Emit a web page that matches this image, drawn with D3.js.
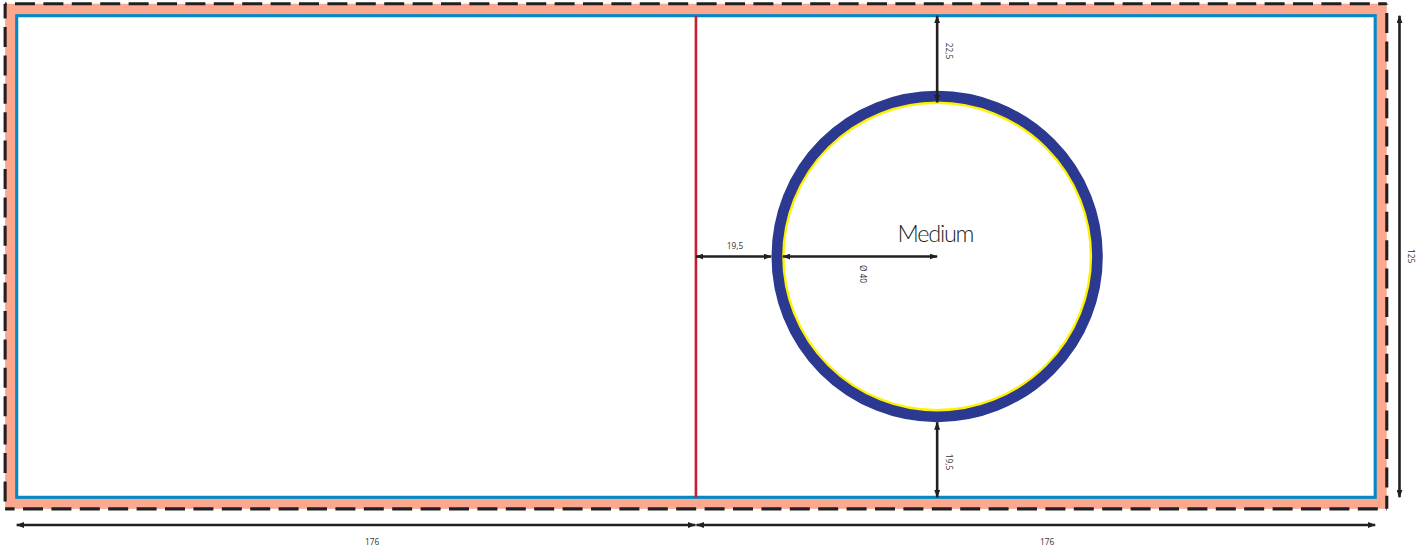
<!DOCTYPE html>
<html><head><meta charset="utf-8">
<script src="https://cdn.jsdelivr.net/npm/d3@7"></script>
<style>html,body{margin:0;padding:0;background:#fff}svg{display:block}text{fill:#333132}</style>
</head><body><svg id="c" width="1421" height="546"></svg>
<script>
// Dimensions, in millimetres
const panelWidths = [176, 176];
const panelHeight = 125;
const bleed = 3;
const circleDiameter = 80;
const ringWidth = 3;
const gapTop = 22.5;
const gapBottom = 19.5;
const gapLeft = 19.5;
const sizeName = "Medium";
const tickLabels = ["176", "176", "125", "22,5", "19,5", "19,5", "Ø 40"];

const totalWidth = d3.sum(panelWidths);
const x = d3.scaleLinear().domain([0, totalWidth]).range([16.7, 1375.2]);
const y = d3.scaleLinear().domain([0, panelHeight]).range([15.7, 497.3]);
const svg = d3.select("#c");
const ink = "#231f20";

const defs = svg.append("defs");
defs.append("marker").attr("id","a").attr("viewBox","0 0 8 6").attr("refX",7.5).attr("refY",3)
  .attr("markerUnits","userSpaceOnUse").attr("markerWidth",8).attr("markerHeight",6).attr("orient","auto-start-reverse")
  .append("path").attr("d","M0,0L8,3L0,6Z").attr("fill",ink);

const L = x(-bleed), R = x(totalWidth+bleed), T = y(-bleed)-0.4, B = y(panelHeight+bleed);

// bleed band
svg.append("rect").attr("x",L).attr("y",T).attr("width",R-L).attr("height",B-T).attr("fill","#fba88e");
// trim area
svg.append("rect").attr("x",x(0)).attr("y",y(0))
  .attr("width",x(totalWidth)-x(0)).attr("height",y(panelHeight)-y(0))
  .attr("fill","#fff").attr("stroke","#0089c6").attr("stroke-width",3.1);

// dashed outer cut line, one stroke per side; the last argument is where a dash begins
function cutSide(x1,y1,x2,y2,dashStart){
  const from = x1===x2 ? y1 : x1;
  svg.append("line").attr("x1",x1).attr("y1",y1).attr("x2",x2).attr("y2",y2)
    .attr("stroke",ink).attr("stroke-width",3.1)
    .attr("stroke-dasharray","20 8.4").attr("stroke-dashoffset",from-dashStart);
}
cutSide(L,T,R,T,15);
cutSide(L,B,R,B,23);
cutSide(L,T,L,B,27);
cutSide(R,T,R,B,13);

// fold
svg.append("line").attr("x1",x(panelWidths[0])).attr("x2",x(panelWidths[0])).attr("y1",y(0)).attr("y2",y(panelHeight))
  .attr("stroke","#c4202f").attr("stroke-width",2.6);

// ring
const cx = panelWidths[0]+gapLeft+ringWidth+circleDiameter/2;
const cy = gapTop+circleDiameter/2;
const rad = mm => x(mm)-x(0);
svg.append("circle").attr("cx",x(cx)).attr("cy",y(cy)).attr("r",rad(circleDiameter/2+ringWidth/2)-0.3)
  .attr("fill","#fff").attr("stroke","#2b3990").attr("stroke-width",rad(ringWidth));
svg.append("circle").attr("cx",x(cx)).attr("cy",y(cy)).attr("r",rad(circleDiameter/2)-0.6)
  .attr("fill","none").attr("stroke","#fff200").attr("stroke-width",2.4);

// dimension lines
function dim(x1,y1,x2,y2){
  svg.append("line").attr("x1",x1).attr("y1",y1).attr("x2",x2).attr("y2",y2)
    .attr("stroke",ink).attr("stroke-width",2.6)
    .attr("marker-start","url(#a)").attr("marker-end","url(#a)");
}
function label(t,px,py,rot){
  svg.append("text").text(t).attr("text-anchor","middle")
    .attr("transform",`translate(${px},${py})`+(rot?` rotate(${rot})`:""))
    .attr("font-family","'Open Sans',sans-serif").attr("font-size",8.3);
}
const oy = 525, ox = 1399.5;
dim(x(0),oy,x(panelWidths[0])-0.5,oy);
dim(x(panelWidths[0])+0.5,oy,x(totalWidth),oy);
dim(ox,y(0),ox,y(panelHeight));
dim(x(cx),y(0),x(cx),y(gapTop));
dim(x(cx),y(panelHeight-gapBottom),x(cx),y(panelHeight));
dim(x(panelWidths[0]),y(cy),x(panelWidths[0]+gapLeft),y(cy));
dim(x(panelWidths[0]+gapLeft+ringWidth),y(cy),x(cx),y(cy));

label(tickLabels[0],372,545);
label(tickLabels[1],1047,545);
label(tickLabels[2],1408,256,90);
label(tickLabels[3],946,51,90);
label(tickLabels[4],946,462,90);
label(tickLabels[5],735,249);
label(tickLabels[6],860,274,90);

svg.append("text").text(sizeName).attr("x",936).attr("y",242).attr("text-anchor","middle")
  .attr("font-family","Lato,sans-serif").attr("font-weight",300).attr("font-size",23.5).attr("textLength",77)
  .style("fill",ink);
</script></body></html>
